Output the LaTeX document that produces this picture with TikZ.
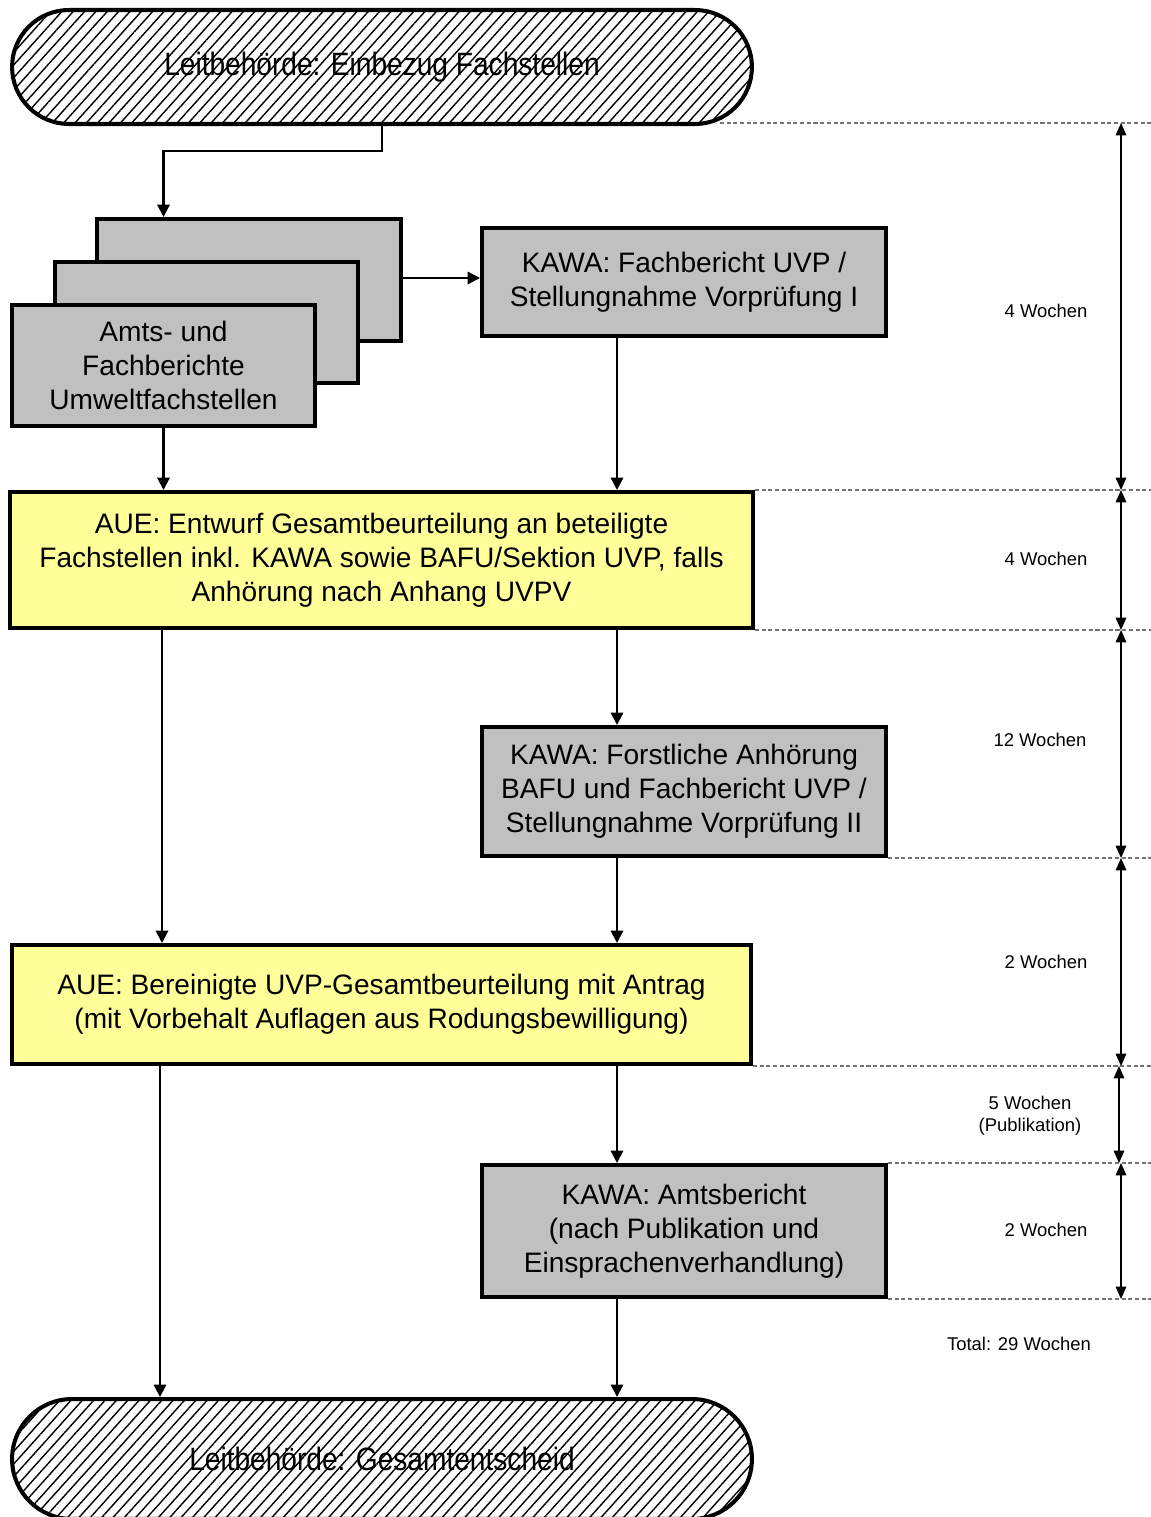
\documentclass[tikz,border=0pt]{standalone}
\usepackage{fontspec}
\setmainfont{Liberation Sans}
\usepackage{graphicx}
\usetikzlibrary{arrows.meta,shapes.misc,patterns.meta}
\definecolor{boxgray}{HTML}{C0C0C0}
\definecolor{boxyellow}{HTML}{FFFF99}

\begin{document}
\begin{tikzpicture}[x=0.02cm,y=-0.02cm,
    font=\fontsize{16}{19.4}\selectfont,
    term/.style={rounded rectangle, draw, line width=2.3pt,
        pattern={Lines[angle=48,distance=4.8pt,line width=0.8pt]},
        minimum width=14.8cm, minimum height=2.28cm, inner sep=0pt},
    grbox/.style={draw, line width=2.3pt, fill=boxgray, inner sep=0pt, align=center},
    yebox/.style={draw, line width=2.3pt, fill=boxyellow, inner sep=0pt, align=center},
    conn/.style={line width=1.2pt, -{Triangle[length=7pt,width=7pt]}},
    guide/.style={black!55, line width=0.6pt, dash pattern=on 2.3pt off 1.5pt},
    dim/.style={line width=0.8pt, {Triangle[length=7pt,width=6pt]}-{Triangle[length=7pt,width=6pt]}},
    weeks/.style={font=\fontsize{10.5}{12.6}\selectfont, align=center}]
    \useasboundingbox (0,0) rectangle (1151,1517);

    % Start
    \node[term] (leit) at (382,67) {\scalebox{1}[1.15]{Leitbehörde: Einbezug Fachstellen}};

    % Stack of reports
    \node[grbox, minimum width=6.08cm, minimum height=2.44cm] (back) at (249,280) {};
    \node[grbox, minimum width=6.06cm, minimum height=2.42cm] (middle) at (206.5,322.5) {};
    \node[grbox, minimum width=6.06cm, minimum height=2.42cm] (front) at (163.5,365.5) {Amts- und\\Fachberichte\\Umweltfachstellen};

    % KAWA and AUE boxes
    \node[grbox, minimum width=8.08cm, minimum height=2.16cm] (kawa1) at (684,282) {KAWA: Fachbericht UVP /\\Stellungnahme Vorprüfung I};
    \node[yebox, minimum width=14.86cm, minimum height=2.72cm] (aue1) at (381.5,560) {AUE: Entwurf Gesamtbeurteilung an beteiligte\\Fachstellen inkl. KAWA sowie BAFU/Sektion UVP, falls\\Anhörung nach Anhang UVPV};
    \node[grbox, minimum width=8.08cm, minimum height=2.58cm] (kawa2) at (684,791.5) {KAWA: Forstliche Anhörung\\BAFU und Fachbericht UVP /\\Stellungnahme Vorprüfung II};
    \node[yebox, minimum width=14.78cm, minimum height=2.38cm] (aue2) at (381.5,1004.5) {AUE: Bereinigte UVP-Gesamtbeurteilung mit Antrag\\(mit Vorbehalt Auflagen aus Rodungsbewilligung)};
    \node[grbox, minimum width=8.08cm, minimum height=2.64cm] (kawa3) at (684,1231) {KAWA: Amtsbericht\\(nach Publikation und\\Einsprachenverhandlung)};

    % End
    \node[term, minimum height=2.4cm] (ende) at (382,1459) {\scalebox{1}[1.15]{Leitbehörde: Gesamtentscheid}};

    % Columns of the arrows
    \coordinate (colL) at (162,0);
    \coordinate (colR) at (617,0);

    % Arrows
    \draw[conn] (leit.south) -- ++(0,26) -| (front.north |- back.north);
    \draw[conn] ([yshift=0.04cm]back.east) -- ([yshift=0.04cm]back.east -| kawa1.west);
    \draw[conn] (front.south) -- (front.south |- aue1.north);
    \draw[conn] (kawa1.south -| colR) -- (aue1.north -| colR);
    \draw[conn] (aue1.south -| colL) -- (aue2.north -| colL);
    \draw[conn] (aue1.south -| colR) -- (kawa2.north -| colR);
    \draw[conn] (kawa2.south -| colR) -- (aue2.north -| colR);
    \draw[conn] ([xshift=-0.04cm]aue2.south -| colL) -- ([xshift=-0.04cm]ende.north -| colL);
    \draw[conn] (aue2.south -| colR) -- (kawa3.north -| colR);
    \draw[conn] (kawa3.south -| colR) -- (ende.north -| colR);

    % Time scale
    \coordinate (scale) at (1121,0);
    \coordinate (t0) at (1121,123);
    \coordinate (t1) at (aue1.north east -| scale);
    \coordinate (t2) at (aue1.south east -| scale);
    \coordinate (t3) at (kawa2.south east -| scale);
    \coordinate (t4) at (aue2.south east -| scale);
    \coordinate (t5) at (kawa3.north east -| scale);
    \coordinate (t6) at (kawa3.south east -| scale);
    \draw[guide] (720,123) -- (t0) -- ++(30,0);
    \draw[guide] (aue1.north east) -- (t1) -- ++(30,0);
    \draw[guide] (aue1.south east) -- (t2) -- ++(30,0);
    \draw[guide] (kawa2.south east) -- (t3) -- ++(30,0);
    \draw[guide] (aue2.south east) -- (t4) -- ++(30,0);
    \draw[guide] (kawa3.north east) -- (t5) -- ++(30,0);
    \draw[guide] (kawa3.south east) -- (t6) -- ++(30,0);
    \draw[dim] (t0) -- (t1);
    \draw[dim] (t1) -- (t2);
    \draw[dim] (t2) -- (t3);
    \draw[dim] (t3) -- (t4);
    \draw[dim] ([xshift=-0.04cm]t4) -- ([xshift=-0.04cm]t5);
    \draw[dim] (t5) -- (t6);

    \node[weeks] (w1) at (1046,311) {4 Wochen};
    \node[weeks] (w2) at (1046,559) {4 Wochen};
    \node[weeks] (w3) at (1040,740) {12 Wochen};
    \node[weeks] (w4) at (1046,962) {2 Wochen};
    \node[weeks] (w5) at (1030,1116) {5 Wochen\\(Publikation)};
    \node[weeks] (w6) at (1046,1230) {2 Wochen};
    \node[weeks] (total) at (1019,1344) {Total: 29 Wochen};
\end{tikzpicture}
\end{document}
